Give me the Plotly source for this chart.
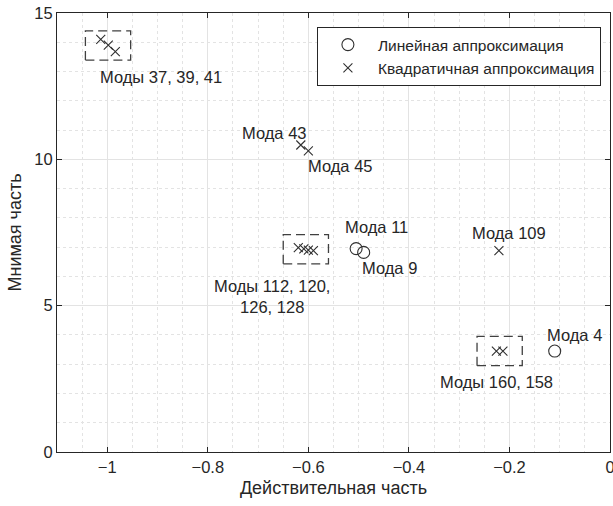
import plotly.graph_objects as go

# ---- data ----
lin_modes = ["Мода 11", "Мода 9", "Мода 4"]
lin_re = [-0.505, -0.490, -0.110]
lin_im = [6.95, 6.82, 3.45]

quad_modes = ["37", "39", "41", "43", "45", "112", "120", "126", "128", "109", "160", "158"]
quad_re = [-1.013, -0.998, -0.984, -0.615, -0.600, -0.620, -0.609, -0.600, -0.590, -0.221, -0.226, -0.213]
quad_im = [14.10, 13.90, 13.68, 10.49, 10.29, 6.98, 6.94, 6.90, 6.88, 6.88, 3.45, 3.45]

# clusters highlighted with dashed boxes (indices into quadratic series)
clusters = [[0, 1, 2], [5, 6, 7, 8], [10, 11]]

label_text = ["Моды 37, 39, 41", "Мода 43", "Мода 45", "Мода 11", "Мода 9",
              "Мода 109", "Моды 112, 120,<br>126, 128", "Мода 4", "Моды 160, 158"]
label_re = [-0.893, -0.667, -0.537, -0.464, -0.438, -0.200, -0.673, -0.070, -0.225]
label_im = [12.81, 10.90, 9.77, 7.70, 6.29, 7.48, 5.33, 4.00, 2.39]

legend_names = ["Линейная аппроксимация", "Квадратичная аппроксимация"]

FONT = "Liberation Sans, Arial, sans-serif"
INK = "#262626"
MARK = "#303030"

fig = go.Figure()
fig.add_trace(go.Scatter(
    x=lin_re, y=lin_im, mode="markers", name=legend_names[0],
    marker=dict(symbol="circle-open", size=12, color=MARK, line=dict(width=1.1, color=MARK)),
))
fig.add_trace(go.Scatter(
    x=quad_re, y=quad_im, mode="markers", name=legend_names[1],
    marker=dict(symbol="x-thin-open", size=9, color=MARK, line=dict(width=1.1, color=MARK)),
))

# dashed boxes around clusters
hw, hh = 0.045, 0.5
for c in clusters:
    xs = [quad_re[i] for i in c]
    ys = [quad_im[i] for i in c]
    cx = (min(xs) + max(xs)) / 2
    cy = (min(ys) + max(ys)) / 2
    fig.add_shape(type="rect", xref="x", yref="y",
                  x0=cx - hw, x1=cx + hw, y0=cy - hh, y1=cy + hh,
                  line=dict(color="#404040", width=1.3, dash="9px,5px"))

for t, x, y in zip(label_text, label_re, label_im):
    fig.add_annotation(x=x, y=y, text=t, showarrow=False, xref="x", yref="y",
                       font=dict(family=FONT, size=16.5, color=INK), align="center")

axis_common = dict(
    showline=True, linecolor=INK, linewidth=1, mirror="ticks",
    ticks="inside", ticklen=5, tickcolor=INK, tickwidth=1,
    showgrid=True, gridcolor="#e3e3e3", gridwidth=1, zeroline=False,
    tickfont=dict(family=FONT, size=16.5, color=INK),
    ticklabeloverflow="allow", automargin=False,
)

fig.update_xaxes(range=[-1.1, 0], dtick=0.2, tick0=0,
                 minor=dict(dtick=0.05, showgrid=True, gridcolor="#e3e3e3", griddash="dot", ticks=""),
                 title=dict(text="Действительная часть", font=dict(family=FONT, size=18, color=INK), standoff=6),
                 **axis_common)
fig.update_yaxes(range=[0, 15], dtick=5, tick0=0,
                 minor=dict(dtick=1, showgrid=True, gridcolor="#e3e3e3", griddash="dot", ticks=""),
                 title=dict(text="Мнимая часть", font=dict(family=FONT, size=18, color=INK), standoff=8),
                 **axis_common)

fig.update_layout(
    width=613, height=506,
    margin=dict(l=57, r=3, t=13, b=54),
    paper_bgcolor="white", plot_bgcolor="white",
    font=dict(family=FONT, color=INK),
    showlegend=True,
    legend=dict(x=0.47, y=0.968, xanchor="left", yanchor="top",
                bgcolor="white", bordercolor=INK, borderwidth=1,
                font=dict(family=FONT, size=15.5, color=INK),
                tracegroupgap=0, itemwidth=50),
)

fig.write_html("out.html")
